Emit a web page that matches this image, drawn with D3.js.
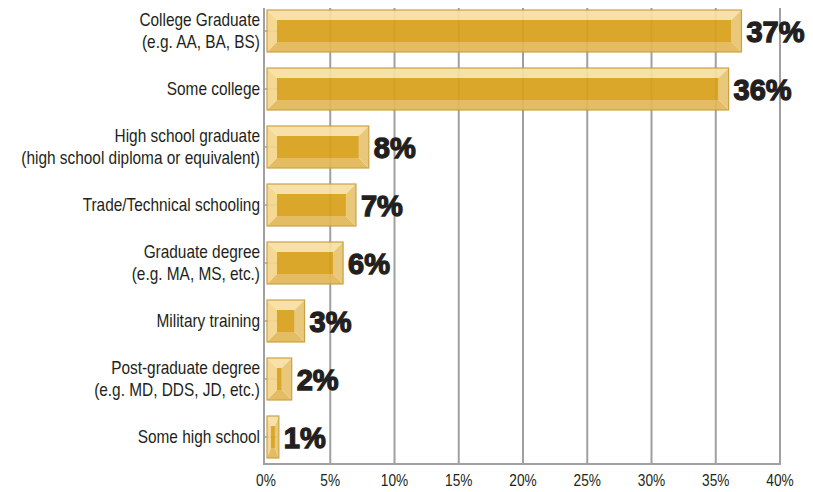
<!DOCTYPE html>
<html>
<head>
<meta charset="utf-8">
<script src="https://cdn.jsdelivr.net/npm/d3@7"></script>
<style>
  html, body { margin: 0; padding: 0; background: #fff; }
  svg { display: block; }
</style>
</head>
<body>
<div id="chart"></div>
<script>
// Highest level of education reached (share of respondents)
const categories = [
  ["College Graduate", "(e.g. AA, BA, BS)"],
  ["Some college"],
  ["High school graduate", "(high school diploma or equivalent)"],
  ["Trade/Technical schooling"],
  ["Graduate degree", "(e.g. MA, MS, etc.)"],
  ["Military training"],
  ["Post-graduate degree", "(e.g. MD, DDS, JD, etc.)"],
  ["Some high school"]
];
const values = [37, 36, 8, 7, 6, 3, 2, 1];
const tickValues = [0, 5, 10, 15, 20, 25, 30, 35, 40];
const tickLabels = ["0%", "5%", "10%", "15%", "20%", "25%", "30%", "35%", "40%"];

const W = 813, H = 492;
const plotLeft = 266, plotRight = 780, plotTop = 2, plotBottom = 466, axisY = 464;
const condenseCat = 0.88; // horizontal squeeze for the narrow label face
const condenseTick = 0.83;

const svg = d3.select("#chart").append("svg")
  .attr("width", W).attr("height", H);

const x = d3.scaleLinear().domain([0, 40]).range([plotLeft, plotRight]);
const y = d3.scaleBand().domain(d3.range(categories.length))
  .range([plotTop, plotBottom]).paddingInner(0.276).paddingOuter(0.138);

const grey = "#a0a0a4";
const labelFont = "'Liberation Sans', Arial, sans-serif";

// vertical gridlines
svg.append("g").selectAll("line").data(tickValues.slice(1)).join("line")
  .attr("x1", d => x(d)).attr("x2", d => x(d))
  .attr("y1", 8).attr("y2", axisY)
  .attr("stroke", grey).attr("stroke-width", 2);

// category ticks (show through the bars)
svg.append("g").selectAll("line").data(values).join("line")
  .attr("x1", plotLeft - 2).attr("x2", plotLeft + 12)
  .attr("y1", (d, i) => y(i) + y.bandwidth() / 2)
  .attr("y2", (d, i) => y(i) + y.bandwidth() / 2)
  .attr("stroke", grey).attr("stroke-width", 1.5);

// axes lines
svg.append("line").attr("x1", plotLeft - 2).attr("x2", plotLeft - 2)
  .attr("y1", 8).attr("y2", axisY + 1)
  .attr("stroke", grey).attr("stroke-width", 2);
svg.append("line").attr("x1", plotLeft - 3).attr("x2", plotRight + 1)
  .attr("y1", axisY).attr("y2", axisY)
  .attr("stroke", grey).attr("stroke-width", 2);

// bevelled bars
const bars = svg.append("g").selectAll("g").data(values).join("g")
  .attr("opacity", 0.93);

bars.each(function (v, i) {
  const g = d3.select(this);
  const x0 = x(0) + 1, x1 = x(v), y0 = y(i), y1 = y(i) + y.bandwidth();
  const w = x1 - x0;
  const bw = Math.min(10, (w - 4) / 2);
  const bh = 10;
  const ix0 = x0 + bw, ix1 = x1 - bw, iy0 = y0 + bh, iy1 = y1 - bh;
  const poly = pts => pts.map(p => p.join(",")).join(" ");
  g.append("polygon").attr("points", poly([[x0, y0], [x1, y0], [ix1, iy0], [ix0, iy0]]))
    .attr("fill", "#f8dfa3");
  g.append("polygon").attr("points", poly([[x0, y0], [ix0, iy0], [ix0, iy1], [x0, y1]]))
    .attr("fill", "#f5d68b");
  g.append("polygon").attr("points", poly([[x0, y1], [ix0, iy1], [ix1, iy1], [x1, y1]]))
    .attr("fill", "#e2b858");
  g.append("polygon").attr("points", poly([[x1, y0], [x1, y1], [ix1, iy1], [ix1, iy0]]))
    .attr("fill", "#e8c473");
  g.append("rect").attr("x", ix0).attr("y", iy0)
    .attr("width", Math.max(0, ix1 - ix0)).attr("height", iy1 - iy0)
    .attr("fill", "#d8a11a");
  g.append("rect").attr("x", x0).attr("y", y0).attr("width", w).attr("height", y1 - y0)
    .attr("fill", "none").attr("stroke", "#c79c38").attr("stroke-width", 1.2);
});

// value labels
svg.append("g").selectAll("text").data(values).join("text")
  .attr("x", d => x(d) + 5)
  .attr("y", (d, i) => y(i) + y.bandwidth() / 2 + 10.5)
  .attr("font-family", "'Liberation Sans', Arial, sans-serif")
  .attr("font-weight", "bold")
  .attr("font-size", 29)
  .attr("fill", "#231f20")
  .attr("stroke", "#231f20").attr("stroke-width", 1.3)
  .text(d => d + "%");

// category labels (condensed horizontally, right-aligned at the axis)
const cl = svg.append("g").selectAll("g").data(categories).join("g")
  .attr("transform", (d, i) => `translate(260,${y(i) + y.bandwidth() / 2}) scale(${condenseCat},1)`)
  .append("text")
  .attr("text-anchor", "end")
  .attr("font-family", labelFont)
  .attr("font-size", 17.5)
  .attr("fill", "#231f20");
cl.each(function (lines) {
  const t = d3.select(this);
  const n = lines.length;
  lines.forEach((s, k) => {
    t.append("tspan").attr("x", 0)
      .attr("dy", k === 0 ? ((-(n - 1) * 11) + 6) : 22)
      .text(s);
  });
});

// x tick labels
svg.append("g").selectAll("g").data(tickValues).join("g")
  .attr("transform", d => `translate(${x(d)},486) scale(${condenseTick},1)`)
  .append("text")
  .attr("text-anchor", "middle")
  .attr("font-family", labelFont)
  .attr("font-size", 16.5)
  .attr("fill", "#231f20")
  .text((d, i) => tickLabels[i]);
</script>
</body>
</html>
